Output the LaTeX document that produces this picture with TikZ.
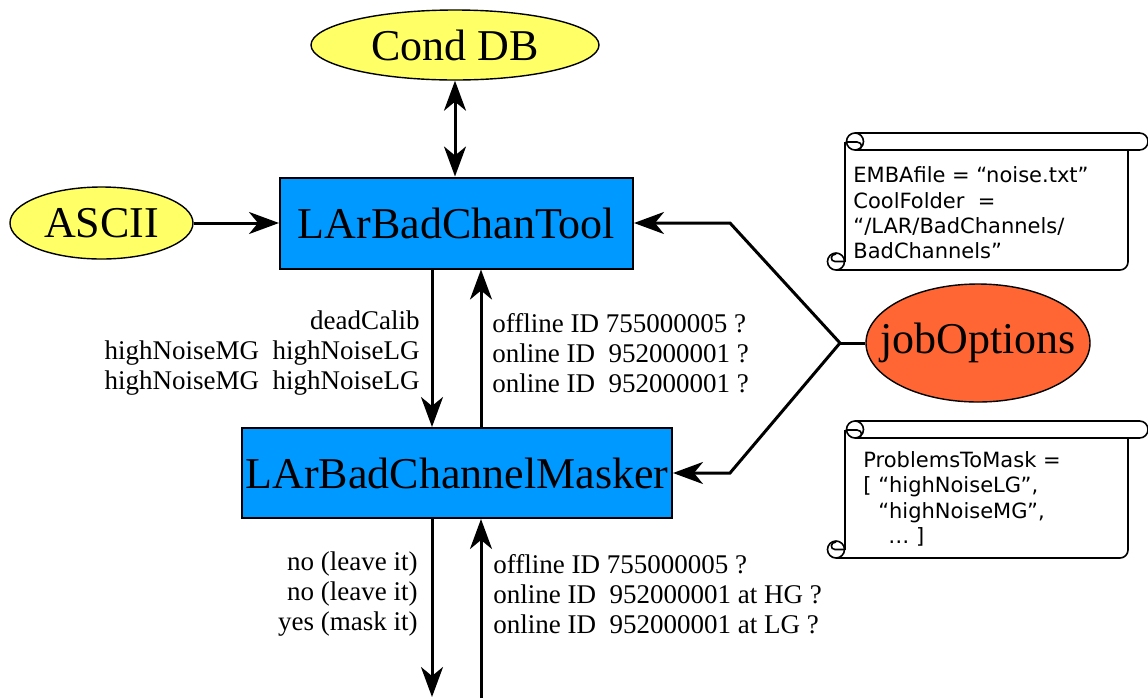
\documentclass[tikz,border=0pt]{standalone}
\usepackage{fontspec}
\setmainfont{Liberation Serif}
\newfontfamily\scrollfont{DejaVu Sans}
\usetikzlibrary{shapes.geometric,arrows.meta,calc}
\definecolor{ellyellow}{HTML}{FFFF66}
\definecolor{boxblue}{HTML}{0099FF}
\definecolor{joborange}{HTML}{FF6633}
\tikzset{
  scrollpic/.pic={
    \path[fill=white] (18,8.5) rectangle (301,137);
    \draw[line width=0.8pt, rounded corners=4pt] (9,137) -- (301,137) -- (301,17);
    \draw[line width=0.8pt] (18,8.5) -- (18,128.5);
    \draw[line width=0.8pt, fill=white, rounded corners=4.2pt] (28,0) -- (321,0) -- (321,17) -- (28,17);
    \draw[line width=0.8pt, fill=white] (28,8.5) circle[radius=4.25pt];
    \draw[line width=0.8pt] (20,9) -- (30,9) .. controls (36,9) and (36,17) .. (30,17);
    \draw[line width=0.8pt, fill=white] (9,128.5) circle[radius=4.25pt];
    \draw[line width=0.8pt] (18,128.5) -- (8,128.5) .. controls (3,128.5) and (3,121) .. (9,121);
  }
}
\begin{document}
\begin{tikzpicture}[x=0.5pt,y=-0.5pt,
  bigtext/.style={font=\fontsize{22}{26}\selectfont},
  ell/.style={ellipse, draw=black, line width=0.7pt, inner sep=0pt},
  tool/.style={rectangle, draw=black, line width=1pt, fill=boxblue, inner sep=0pt, font=\fontsize{22}{26}\selectfont},
  tip/.tip={Stealth[length=15pt,width=11pt,inset=4.5pt]},
  flow/.style={line width=1.5pt, -tip},
  lbl/.style={font=\fontsize{13.5}{15}\selectfont, inner sep=0pt},
  scrolltext/.style={font=\scrollfont\fontsize{10.5}{12.7}\selectfont, inner sep=0pt, align=left, anchor=west}
]
\useasboundingbox (0,0) rectangle (1148,698);

% scrolls
\pic (s1) at (827,133) {scrollpic};
\pic (s2) at (827,421) {scrollpic};
\node[scrolltext] (t1) at (853,213) {EMBAfile = “noise.txt”\\CoolFolder\ \ =\\“/LAR/BadChannels/\\BadChannels”};
\node[scrolltext] (t2) at (863,499) {ProblemsToMask =\\{[} “highNoiseLG”,\\\hphantom{[ }“highNoiseMG”,\\\hspace{12.5pt}… ]};

% main nodes
\node[ell, fill=ellyellow, minimum width=144pt, minimum height=35pt, label={[bigtext]center:Cond DB}] (cond) at (455,45) {};
\node[ell, fill=ellyellow, minimum width=91.5pt, minimum height=36pt, label={[bigtext]center:ASCII}] (ascii) at (101.5,223) {};
\node[ell, fill=joborange, minimum width=112pt, minimum height=59pt, label={[bigtext]center:jobOptions}] (job) at (978,343) {};
\node[tool, minimum width=176.5pt, minimum height=45.5pt] (b1) at (456.5,223) {LArBadChanTool};
\node[tool, minimum width=215pt, minimum height=45pt] (b2) at (457,473) {LArBadChannelMasker};

% helper coordinates
\coordinate (dnx) at (432,0);
\coordinate (upx) at (481,0);
\coordinate (dnend) at (432,697);
\coordinate (upstart) at (481,698);
\coordinate (fork) at (840,343);
\coordinate (forkup) at (730,223);
\coordinate (forkdn) at (730,473);

% connectors
\draw[line width=1.5pt, tip-tip] (cond.south) -- (cond.south |- b1.north);
\draw[flow] (ascii.east) -- (ascii.east -| b1.west);
\draw[flow] (b1.south -| dnx) -- (b2.north -| dnx);
\draw[flow] (b2.north -| upx) -- (b1.south -| upx);
\draw[flow] (b2.south -| dnx) -- (dnend);
\draw[flow] (upstart) -- (b2.south -| upx);
\draw[line width=1.5pt] (job.west) -- (fork);
\draw[flow] (fork) -- (forkup) -- (forkup -| b1.east);
\draw[flow] (fork) -- (forkdn) -- (forkdn -| b2.east);

% labels
\node[lbl, anchor=east, align=right] (l1) at (420,353) {deadCalib\\highNoiseMG\ \ highNoiseLG\\highNoiseMG\ \ highNoiseLG};
\node[lbl, anchor=west, align=left] (r1) at (492,353) {offline ID 755000005 ?\\online ID\ \ 952000001 ?\\online ID\ \ 952000001 ?};
\node[lbl, anchor=east, align=right] (l2) at (418,594) {no (leave it)\\no (leave it)\\yes (mask it)};
\node[lbl, anchor=west, align=left] (r2) at (493,594) {offline ID 755000005 ?\\online ID\ \ 952000001 at HG ?\\online ID\ \ 952000001 at LG ?};
\end{tikzpicture}
\end{document}
